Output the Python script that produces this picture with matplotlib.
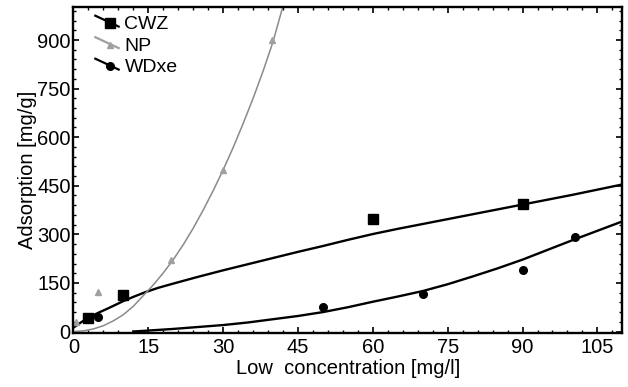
import matplotlib
matplotlib.use("Agg")
import matplotlib.pyplot as plt
from matplotlib.lines import Line2D
from matplotlib.legend_handler import HandlerLine2D
from matplotlib.ticker import MultipleLocator

plt.rcParams["font.family"] = ["Liberation Sans", "DejaVu Sans"]

# measured points
cwz_x = [3, 10, 60, 90]
cwz_y = [43, 112, 346, 395]
np_x = [0.5, 5, 19.5, 30, 39.8]
np_y = [28, 122, 220, 498, 900]
wdxe_x = [5, 50, 70, 90, 100.5]
wdxe_y = [44, 75, 117, 190, 293]

# fitted curves
cwz_fit_x = [0, 1, 2, 3, 5, 7, 10, 12, 14.3, 17, 20, 25, 30, 35, 40, 45,
             50, 55, 60, 65, 70, 75, 80, 85, 90, 95, 100, 105, 110]
cwz_fit_y = [12, 23, 33, 43, 58, 72, 94, 107, 121, 135, 148, 169, 189, 208,
             227, 246, 264, 283, 301, 317, 332, 347, 362, 377, 392, 407,
             422, 438, 454]
np_fit_x = [0, 2, 4, 6, 8, 10, 12, 14.3, 16, 18, 20, 22, 24, 26, 28, 30,
            32, 34, 36, 38, 40, 41.9]
np_fit_y = [0, 2, 8, 18, 33, 52, 78, 116, 144, 181, 222, 268, 319, 375,
            435, 499, 568, 642, 720, 804, 895, 1000]
wdxe_fit_x = [12, 15, 20, 25, 30, 35, 40, 45, 50, 55, 60, 65, 70, 75, 80,
              85, 90, 95, 100, 105, 110]
wdxe_fit_y = [0, 3, 8, 14, 20, 28, 38, 48, 60, 75, 92, 108, 125, 146, 170,
              195, 222, 252, 282, 311, 340]


class DiagonalHandler(HandlerLine2D):
    """Legend key drawn as a short falling stroke with the marker on it."""

    def create_artists(self, legend, orig_handle, xdescent, ydescent,
                       width, height, fontsize, trans):
        stroke = Line2D([-xdescent, width - xdescent],
                        [height * 1.0, height * 0.2],
                        color=orig_handle.get_color(), linewidth=1.6)
        mark = Line2D([width * 0.65 - xdescent], [height * 0.45],
                      marker=orig_handle.get_marker(), linestyle="none",
                      color=orig_handle.get_color(),
                      markersize=orig_handle.get_markersize())
        stroke.set_transform(trans)
        mark.set_transform(trans)
        return [stroke, mark]


fig = plt.figure(figsize=(6.28, 3.87), dpi=100)
ax = fig.add_axes([0.117, 0.140, 0.874, 0.842])

ax.plot(cwz_fit_x, cwz_fit_y, color="black", linewidth=1.7)
ax.plot(np_fit_x, np_fit_y, color="#8a8a8a", linewidth=1.1)
ax.plot(wdxe_fit_x, wdxe_fit_y, color="black", linewidth=1.7)

h1, = ax.plot(cwz_x, cwz_y, "s", color="black", markersize=6.5, label="CWZ")
h2, = ax.plot(np_x, np_y, "^", color="#a0a0a0", markersize=5, label="NP")
h3, = ax.plot(wdxe_x, wdxe_y, "o", color="black", markersize=5.5, label="WDxe")

ax.set_xlim(0, 110)
ax.set_ylim(-4, 1002)
ax.xaxis.set_major_locator(MultipleLocator(15))
ax.xaxis.set_minor_locator(MultipleLocator(3))
ax.yaxis.set_major_locator(MultipleLocator(150))
ax.yaxis.set_minor_locator(MultipleLocator(30))
ax.tick_params(which="both", direction="in", top=True, right=True,
               labelsize=14.5)
ax.tick_params(axis="x", pad=4)
ax.tick_params(axis="y", pad=2)
ax.tick_params(which="major", length=4, width=1.2)
ax.tick_params(which="minor", length=2, width=1)
for s in ax.spines.values():
    s.set_linewidth(1.7)

ax.set_xlabel("Low  concentration [mg/l]", fontsize=14.5, labelpad=1)
ax.set_ylabel("Adsorption [mg/g]", fontsize=14.5, labelpad=0)

ax.legend(handles=[h1, h2, h3], handler_map={Line2D: DiagonalHandler()},
          loc="upper left", bbox_to_anchor=(0.015, 1.015), frameon=False,
          fontsize=14, handlelength=1.2, handletextpad=0.3, labelspacing=0.2,
          borderpad=0.2)

fig.savefig("out.png", dpi=100)
